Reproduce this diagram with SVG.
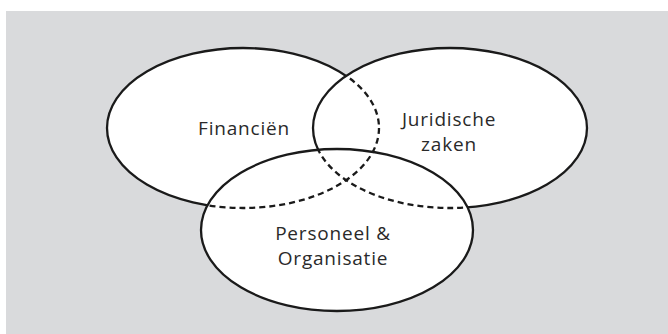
<svg xmlns="http://www.w3.org/2000/svg" width="668" height="334" viewBox="0 0 668 334">
  <style>
    .fill { fill: #ffffff; stroke: none; }
    .line { fill: none; stroke: #1a1a1a; stroke-width: 2.3; }
    .dash { stroke-dasharray: 6 4; }
    .label { font-family: "Open Sans", "Liberation Sans", sans-serif; font-size: 19px; letter-spacing: 0.8px; fill: #2a2a2a; text-anchor: middle; }
  </style>
  <defs>
    <ellipse id="shape-fin" cx="243" cy="128" rx="136" ry="80"/>
    <ellipse id="shape-jur" cx="450" cy="128" rx="137" ry="80"/>
    <ellipse id="shape-po" cx="337" cy="230" rx="136" ry="81"/>
    <!-- Financiën outline: solid outside the other two areas, dashed inside -->
    <mask id="fin-outside" maskUnits="userSpaceOnUse" x="0" y="0" width="668" height="334">
      <rect width="668" height="334" fill="#fff"/>
      <use href="#shape-jur" fill="#000"/>
      <use href="#shape-po" fill="#000"/>
    </mask>
    <mask id="fin-inside" maskUnits="userSpaceOnUse" x="0" y="0" width="668" height="334">
      <use href="#shape-jur" fill="#fff"/>
      <use href="#shape-po" fill="#fff"/>
    </mask>
    <!-- Juridische zaken outline: dashed only inside Personeel & Organisatie -->
    <mask id="jur-outside" maskUnits="userSpaceOnUse" x="0" y="0" width="668" height="334">
      <rect width="668" height="334" fill="#fff"/>
      <use href="#shape-po" fill="#000"/>
    </mask>
    <mask id="jur-inside" maskUnits="userSpaceOnUse" x="0" y="0" width="668" height="334">
      <use href="#shape-po" fill="#fff"/>
    </mask>
  </defs>

  <!-- panel -->
  <rect x="6" y="11" width="662" height="323" fill="#d9dadc"/>

  <!-- white interior of all three areas -->
  <g id="fills">
    <use href="#shape-fin" class="fill"/>
    <use href="#shape-jur" class="fill"/>
    <use href="#shape-po" class="fill"/>
  </g>

  <g id="financien">
    <use href="#shape-fin" class="line" mask="url(#fin-outside)"/>
    <use href="#shape-fin" class="line dash" mask="url(#fin-inside)"/>
    <text class="label" x="244" y="135">Financiën</text>
  </g>

  <g id="juridische-zaken">
    <use href="#shape-jur" class="line" mask="url(#jur-outside)"/>
    <use href="#shape-jur" class="line dash" mask="url(#jur-inside)"/>
    <text class="label" x="449" y="126">Juridische</text>
    <text class="label" x="449" y="151">zaken</text>
  </g>

  <g id="personeel-organisatie">
    <use href="#shape-po" class="line"/>
    <text class="label" x="333" y="240">Personeel &amp;</text>
    <text class="label" x="333" y="265">Organisatie</text>
  </g>
</svg>
